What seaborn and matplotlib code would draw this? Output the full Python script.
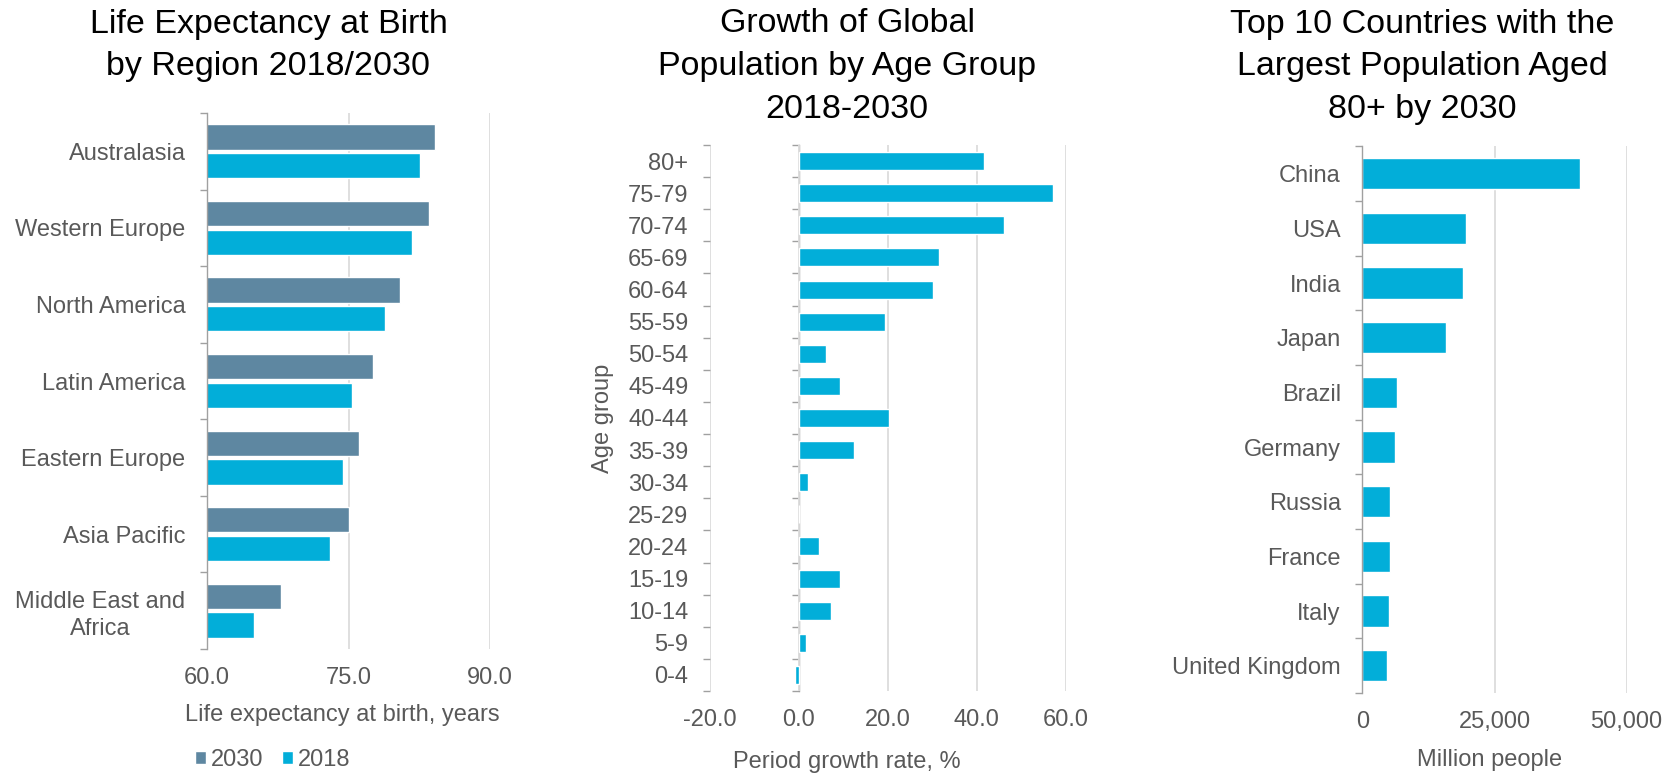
import matplotlib
matplotlib.use("Agg")
import matplotlib.pyplot as plt
import seaborn as sns
import pandas as pd
import numpy as np
from matplotlib.patches import Patch

# ---------------- data ----------------
regions = ["Australasia", "Western Europe", "North America", "Latin America",
           "Eastern Europe", "Asia Pacific", "Middle East and\nAfrica"]
life_2030 = [84.2, 83.5, 80.5, 77.6, 76.1, 75.0, 67.8]
life_2018 = [82.6, 81.7, 78.9, 75.4, 74.4, 73.0, 65.0]
years = ["2030", "2018"]

age_groups = ["80+", "75-79", "70-74", "65-69", "60-64", "55-59", "50-54", "45-49",
              "40-44", "35-39", "30-34", "25-29", "20-24", "15-19", "10-14", "5-9", "0-4"]
growth = [41.6, 57.2, 46.1, 31.6, 30.2, 19.4, 6.2, 9.2, 20.3, 12.5, 2.0, 0.1,
          4.5, 9.2, 7.3, 1.7, -0.9]

countries = ["China", "USA", "India", "Japan", "Brazil", "Germany", "Russia",
             "France", "Italy", "United Kingdom"]
pop80 = [41100, 19600, 19000, 15800, 6550, 6170, 5280, 5150, 5030, 4700]

life_ticks = [60, 75, 90]
growth_ticks = [-20, 0, 20, 40, 60]
pop_ticks = [0, 25000, 50000]

titles = ["Life Expectancy at Birth\nby Region 2018/2030",
          "Growth of Global\nPopulation by Age Group\n2018-2030",
          "Top 10 Countries with the\nLargest Population Aged\n80+ by 2030"]
xlabels = ["Life expectancy at birth, years", "Period growth rate, %", "Million people"]

# ---------------- style ----------------
sns.set_theme(style="white")
plt.rcParams["font.family"] = ["Liberation Sans", "DejaVu Sans"]

C2030 = "#5E87A1"
C2018 = "#02AED9"
TXT = "#595959"
SPINE = "#a0a0a0"
GRID = "#dcdcdc"
FS = 17
W, H = 1677, 776

fig = plt.figure(figsize=(W / 100, H / 100), dpi=100)


def px_axes(l, r, t, b):
    return fig.add_axes([l / W, 1 - b / H, (r - l) / W, (b - t) / H])


ax1 = px_axes(207, 490, 113, 649)
ax2 = px_axes(710, 1065.5, 145, 691)
ax3 = px_axes(1362.4, 1626.6, 146.4, 693)

# Panel 1
df1 = pd.DataFrame({"region": regions * 2,
                    "year": [years[0]] * len(regions) + [years[1]] * len(regions),
                    "value": life_2030 + life_2018})
sns.barplot(data=df1, y="region", x="value", hue="year", hue_order=years, order=regions,
            palette=[C2030, C2018], saturation=1, width=0.75, gap=0.12, orient="h",
            errorbar=None, legend=False, ax=ax1)
ax1.set_xlim(life_ticks[0], life_ticks[-1])
ax1.set_xticks(life_ticks)
ax1.set_xticklabels([f"{v:.1f}" for v in life_ticks])

# Panel 2
df2 = pd.DataFrame({"age": age_groups, "growth": growth})
sns.barplot(data=df2, y="age", x="growth", order=age_groups, color=C2018, saturation=1,
            width=0.56, orient="h", errorbar=None, ax=ax2)
ax2.set_xlim(growth_ticks[0], growth_ticks[-1])
ax2.set_xticks(growth_ticks)
ax2.set_xticklabels([f"{v:.1f}" for v in growth_ticks])

# Panel 3
df3 = pd.DataFrame({"country": countries, "pop": pop80})
sns.barplot(data=df3, y="country", x="pop", order=countries, color=C2018, saturation=1,
            width=0.57, orient="h", errorbar=None, ax=ax3)
ax3.set_xlim(pop_ticks[0], pop_ticks[-1])
ax3.set_xticks(pop_ticks)
ax3.set_xticklabels([f"{v:,.0f}" for v in pop_ticks])

for ax, cats in [(ax1, regions), (ax2, age_groups), (ax3, countries)]:
    n = len(cats)
    ax.set_ylabel("")
    ax.set_xlabel("")
    for s in ["top", "right", "bottom"]:
        ax.spines[s].set_visible(False)
    ax.spines["left"].set_color(SPINE)
    ax.spines["left"].set_linewidth(1.0)
    ax.set_yticks(np.arange(n))
    ax.set_yticklabels(cats)
    ax.set_yticks(np.arange(n + 1) - 0.5, minor=True)
    ax.tick_params(axis="y", which="major", length=0, pad=15.5, labelsize=FS, labelcolor=TXT)
    ax.tick_params(axis="y", which="minor", left=True, length=5, width=1.0, color=SPINE)
    ax.tick_params(axis="x", which="major", length=0, pad=13, labelsize=FS, labelcolor=TXT)
    ax.xaxis.grid(True, color=GRID, linewidth=1.3)
    ax.yaxis.grid(False)
    ax.set_axisbelow(True)
    ax.set_ylim(n - 0.5, -0.5)

for lab in ax1.get_yticklabels():
    lab.set_multialignment("center")
    lab.set_linespacing(1.3)

# Panel 2: value axis line at zero, labels stay at the left edge
ax2.spines["left"].set_visible(False)
zero_loc = (0 - growth_ticks[0]) / (growth_ticks[-1] - growth_ticks[0])
sec = ax2.secondary_yaxis(zero_loc)
sec.set_yticks(np.arange(len(age_groups) + 1) - 0.5)
sec.set_yticklabels([])
sec.tick_params(axis="y", left=True, length=5, width=1.0, color=SPINE)
sec.spines["left"].set_color(SPINE)
sec.spines["left"].set_linewidth(1.0)

# axis labels
ax1.set_xlabel(xlabels[0], fontsize=FS, color=TXT)
ax1.xaxis.set_label_coords((342 - 207) / 283, (649 - 704) / 536)
ax2.set_xlabel(xlabels[1], fontsize=FS, color=TXT)
ax2.xaxis.set_label_coords((847 - 710) / 355.5, (691 - 751) / 546)
ax3.set_xlabel(xlabels[2], fontsize=FS, color=TXT)
ax3.xaxis.set_label_coords((1490 - 1362.4) / 264.2, (693 - 749) / 546.6)
ax2.set_ylabel("Age group", fontsize=FS, color=TXT)
ax2.yaxis.set_label_coords((614 - 710) / 355.5, 0.5)

# titles
for t, cx in zip(titles, [268.5, 847, 1422]):
    fig.text(cx / W, 1 - 8.5 / H, t, ha="center", va="top", fontsize=24.5,
             color="black", linespacing=1.49)

# legend
handles = [Patch(facecolor=C2030, label=years[0]), Patch(facecolor=C2018, label=years[1])]
fig.legend(handles=handles, loc="center left", bbox_to_anchor=(195 / W, 1 - 760 / H),
           ncol=2, frameon=False, fontsize=FS, handlelength=0.47, handleheight=0.47,
           handletextpad=0.2, columnspacing=0.8, borderaxespad=0, borderpad=0,
           labelcolor=TXT)

fig.savefig("out.png", dpi=100)
